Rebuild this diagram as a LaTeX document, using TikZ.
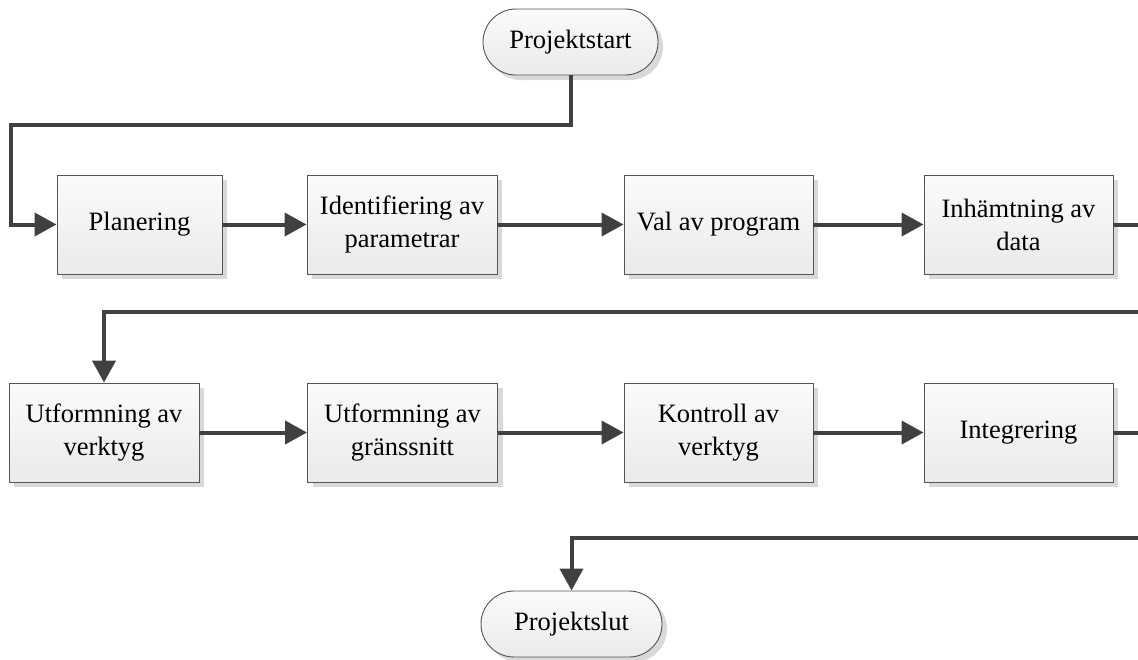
\documentclass[tikz,border=0pt]{standalone}
\usepackage{fontspec}
\setmainfont{Liberation Serif}
\usetikzlibrary{arrows.meta,shadows}
\definecolor{linegray}{HTML}{404040}
\definecolor{boxedge}{HTML}{555555}
\definecolor{boxtop}{HTML}{FBFBFB}
\definecolor{boxbottom}{HTML}{EAEAEA}
\definecolor{shadowgray}{HTML}{D9D9D9}
\begin{document}
\begin{tikzpicture}[x=1pt,y=-1pt,
  common/.style={draw=boxedge, line width=0.9pt, top color=boxtop, bottom color=boxbottom,
    inner sep=0pt, align=center, font=\fontsize{26.5}{33}\selectfont,
    general shadow={fill=shadowgray, shadow xshift=5pt, shadow yshift=-5pt}},
  stepbox/.style={common, minimum width=190pt, minimum height=99pt},
  terminal/.style={common, rounded corners=33pt, minimum height=66pt},
  flow/.style={draw=linegray, line width=4pt, -{Triangle[length=22pt,width=23pt]}},
  plain/.style={draw=linegray, line width=4pt}]
\useasboundingbox (0,0) rectangle (1138,659);

% start and end terminals
\node[terminal, minimum width=175pt] (start) at (570.5,42) {Projektstart};
\node[terminal, minimum width=181pt] (stop) at (571.5,624) {Projektslut};

% first row
\node[stepbox, minimum width=165pt] (plan) at (139.5,224.5) {Planering};
\node[stepbox] (ident) at (402,224.5) {Identifiering av\\parametrar};
\node[stepbox, minimum width=189pt] (val) at (718.5,224.5) {Val av program};
\node[stepbox, minimum width=189pt] (inh) at (1018.5,224.5) {Inhämtning av\\data};

% second row
\node[stepbox] (verk) at (104,432.5) {Utformning av\\verktyg};
\node[stepbox] (grans) at (402.5,432.5) {Utformning av\\gränssnitt};
\node[stepbox, minimum width=189pt] (kontr) at (718.5,432.5) {Kontroll av\\verktyg};
\node[stepbox, minimum width=189pt] (integ) at (1018.5,432.5) {Integrering};

% routing points
\coordinate (r1) at (11,125);
\coordinate (e1) at (1142,224.5);
\coordinate (e2) at (1142,312);
\coordinate (e3) at (1142,432.5);
\coordinate (e4) at (1142,538);

% connectors
\draw[flow] (start.south) |- (r1) |- (plan.west);
\draw[flow] (plan) -- (ident);
\draw[flow] (ident) -- (val);
\draw[flow] (val) -- (inh);
\draw[plain] (inh.east) -- (e1);
\draw[flow] (e2) -| (verk.north);
\draw[flow] (verk) -- (grans);
\draw[flow] (grans) -- (kontr);
\draw[flow] (kontr) -- (integ);
\draw[plain] (integ.east) -- (e3);
\draw[flow] (e4) -| (stop.north);
\end{tikzpicture}
\end{document}
